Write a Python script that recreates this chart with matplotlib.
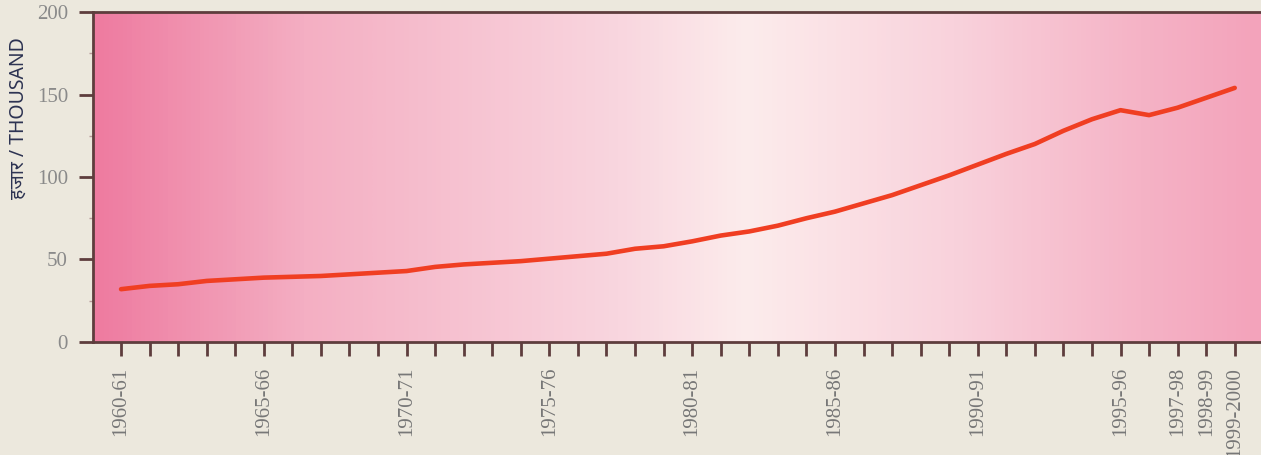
import numpy as np
import matplotlib
matplotlib.use("Agg")
import matplotlib.pyplot as plt
from matplotlib.colors import LinearSegmentedColormap

# years (fiscal) and values in thousand
years = ["1960-61", "1961-62", "1962-63", "1963-64", "1964-65", "1965-66", "1966-67",
         "1967-68", "1968-69", "1969-70", "1970-71", "1971-72", "1972-73", "1973-74",
         "1974-75", "1975-76", "1976-77", "1977-78", "1978-79", "1979-80", "1980-81",
         "1981-82", "1982-83", "1983-84", "1984-85", "1985-86", "1986-87", "1987-88",
         "1988-89", "1989-90", "1990-91", "1991-92", "1992-93", "1993-94", "1994-95",
         "1995-96", "1996-97", "1997-98", "1998-99", "1999-2000"]
values = [32, 34, 35, 37, 38, 39, 39.5, 40, 41, 42,
          43, 45.5, 47, 48, 49, 50.5, 52, 53.5, 56.5, 58,
          61, 64.5, 67, 70.5, 75, 79, 84, 89, 95, 101,
          107.5, 114, 120, 128, 135, 140.5, 137.5, 142, 148, 154]
labeled = ["1960-61", "1965-66", "1970-71", "1975-76", "1980-81", "1985-86",
           "1990-91", "1995-96", "1997-98", "1998-99", "1999-2000"]
yticks = [0, 50, 100, 150, 200]

x = np.arange(len(years))

fig = plt.figure(figsize=(12.61, 4.55), dpi=100, facecolor="#ece8dd")
ax = fig.add_axes([0.0738, 0.2484, 0.9262, 0.7252])

# pink background gradient
bg = LinearSegmentedColormap.from_list("bg", [
    (0.0, "#ee7ba0"), (0.18, "#f4afc3"), (0.45, "#f9d6df"),
    (0.56, "#fcecec"), (0.74, "#f9d2dc"), (0.9, "#f5b3c6"), (1.0, "#f3a3bb")])
grad = np.linspace(0, 1, 256).reshape(1, -1)
ax.imshow(grad, cmap=bg, aspect="auto", extent=[-0.98, 39.92, 0, 200],
          zorder=0, interpolation="bicubic")

ax.plot(x, values, color="#f03e22", lw=3.3, solid_capstyle="round", zorder=3)

ax.set_xlim(-0.98, 39.92)
ax.set_ylim(0, 200)

ax.set_xticks(x)
ax.set_xticklabels([y if y in labeled else "" for y in years], rotation=90,
                   family="Liberation Serif", fontsize=15, color="#777777")
ax.set_yticks(yticks)
ax.set_yticklabels([str(v) for v in yticks], family="Liberation Serif",
                   fontsize=15, color="#8a8a8a")
ax.set_yticks([25, 75, 125, 175], minor=True)

spine_col = "#5e3d3d"
for s in ["left", "bottom", "top"]:
    ax.spines[s].set_color(spine_col)
    ax.spines[s].set_linewidth(2)
ax.spines["right"].set_visible(False)
ax.tick_params(axis="both", which="major", length=10, width=2, color=spine_col, pad=8)
ax.tick_params(axis="y", which="minor", length=3, width=1, color="#b89a9a")

# y axis title
fig.text(19 / 1261, 1 - 118 / 455, "हजार / THOUSAND", rotation=90,
         ha="center", va="center", family=["Noto Sans", "DejaVu Sans"],
         fontsize=14, fontweight="bold", color="#2d3352")

fig.savefig("out.png", dpi=100, facecolor=fig.get_facecolor())
